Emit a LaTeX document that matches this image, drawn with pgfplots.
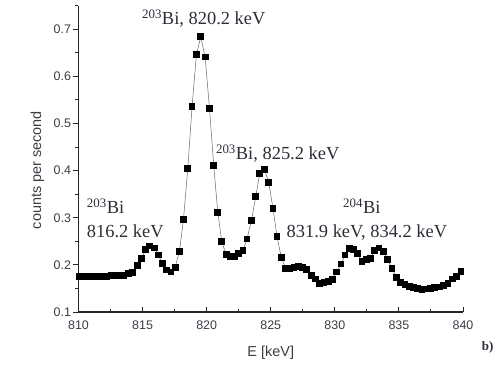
\documentclass[border=0pt]{standalone}
\usepackage{pgfplots}
\pgfplotsset{compat=1.18}
\usepackage{fontspec}
\setmainfont{Liberation Serif}
\setsansfont{Liberation Sans}
\definecolor{txt}{RGB}{45,45,55}
\definecolor{tick}{RGB}{60,60,70}
\begin{document}
\begin{tikzpicture}
\useasboundingbox (-78.5bp,-56bp) rectangle (421.5bp,312bp);
\begin{axis}[
  at={(0,0)}, anchor=south west,
  scale only axis, width=384.5bp, height=306.3bp,
  xmin=810, xmax=840, ymin=0.1, ymax=0.75,
  axis lines=left, axis line style={-, line width=1.1bp, black!85},
  xtick={810,815,...,840}, ytick={0.1,0.2,...,0.7},
  minor xtick={812.5,817.5,...,837.5},
  minor ytick={0.15,0.25,...,0.75},
  tick align=inside,
  major tick length=5bp, minor tick length=3bp,
  tick style={line width=1bp, black!85},
  every major y tick/.append style={xshift=-5bp},
  every minor y tick/.append style={xshift=-3bp},
  /pgf/number format/assume math mode=true,
  ticklabel style={font=\fontsize{12.5}{14}\sffamily, text=tick},
  xticklabel style={yshift=-5bp},
  yticklabel style={xshift=-4bp, /pgf/number format/.cd, fixed, precision=1},
  xlabel={E [keV]}, ylabel={counts per second},
  label style={font=\fontsize{14.5}{16}\sffamily, text=tick},
  xlabel style={at={(axis description cs:0.5,-0.134)}, anchor=center},
  ylabel style={at={(axis description cs:-0.1066,0.4636)}, anchor=center},
  clip mode=individual,
]
\addplot[color=black!60, line width=0.5bp, mark=square*, mark size=2.9bp,
  mark options={fill=black, draw=black, line width=0pt}] coordinates {
(810.05,0.176) (810.22,0.176) (810.55,0.176) (810.88,0.176) (811.22,0.176)
(811.55,0.175) (811.88,0.175) (812.21,0.176) (812.55,0.177) (812.88,0.177)
(813.21,0.178) (813.55,0.178) (813.88,0.181) (814.22,0.184) (814.58,0.198)
(814.92,0.214) (815.24,0.232) (815.57,0.240) (815.94,0.236) (816.22,0.221)
(816.56,0.203) (816.87,0.189) (817.21,0.185) (817.54,0.195) (817.88,0.229)
(818.19,0.297) (818.53,0.405) (818.86,0.536) (819.20,0.646) (819.54,0.684)
(819.88,0.641) (820.22,0.532) (820.55,0.411) (820.87,0.311) (821.18,0.249)
(821.52,0.222) (821.85,0.217) (822.17,0.217) (822.50,0.224) (822.84,0.231)
(823.15,0.255) (823.49,0.294) (823.83,0.345) (824.14,0.394) (824.50,0.403)
(824.84,0.375) (825.18,0.319) (825.49,0.260) (825.83,0.215) (826.17,0.193)
(826.48,0.193) (826.82,0.195) (827.16,0.197) (827.50,0.195) (827.80,0.190)
(828.17,0.177) (828.50,0.170) (828.82,0.161) (829.16,0.163) (829.50,0.165)
(829.80,0.169) (830.15,0.185) (830.48,0.202) (830.80,0.221) (831.13,0.234)
(831.47,0.232) (831.78,0.224) (832.12,0.207) (832.46,0.211) (832.80,0.214)
(833.11,0.231) (833.45,0.236) (833.78,0.229) (834.12,0.212) (834.46,0.192)
(834.80,0.174) (835.14,0.163) (835.47,0.158) (835.81,0.154) (836.15,0.152)
(836.46,0.150) (836.80,0.147) (837.14,0.149) (837.48,0.150) (837.80,0.152)
(838.15,0.153) (838.50,0.156) (838.83,0.161) (839.17,0.170) (839.50,0.176)
(839.84,0.186)
};
\begin{scope}[every node/.style={font=\fontsize{18.5}{20}\selectfont, text=txt, inner sep=0pt}]
\node[anchor=base west] at (axis cs:814.95,0.71) {\textsuperscript{203}Bi, 820.2 keV};
\node[anchor=base west] at (axis cs:820.72,0.424) {\textsuperscript{203}Bi, 825.2 keV};
\node[anchor=base west] at (axis cs:810.64,0.308) {\textsuperscript{203}Bi};
\node[anchor=base west] at (axis cs:810.64,0.2575) {816.2 keV};
\node[anchor=base west] at (axis cs:830.64,0.308) {\textsuperscript{204}Bi};
\node[anchor=base west] at (axis cs:826.23,0.2575) {831.9 keV, 834.2 keV};
\end{scope}
\node[font=\fontsize{13}{14}\selectfont\bfseries, text=txt] at (axis cs:841.92,0.0258) {b)};
\end{axis}
\end{tikzpicture}
\end{document}
